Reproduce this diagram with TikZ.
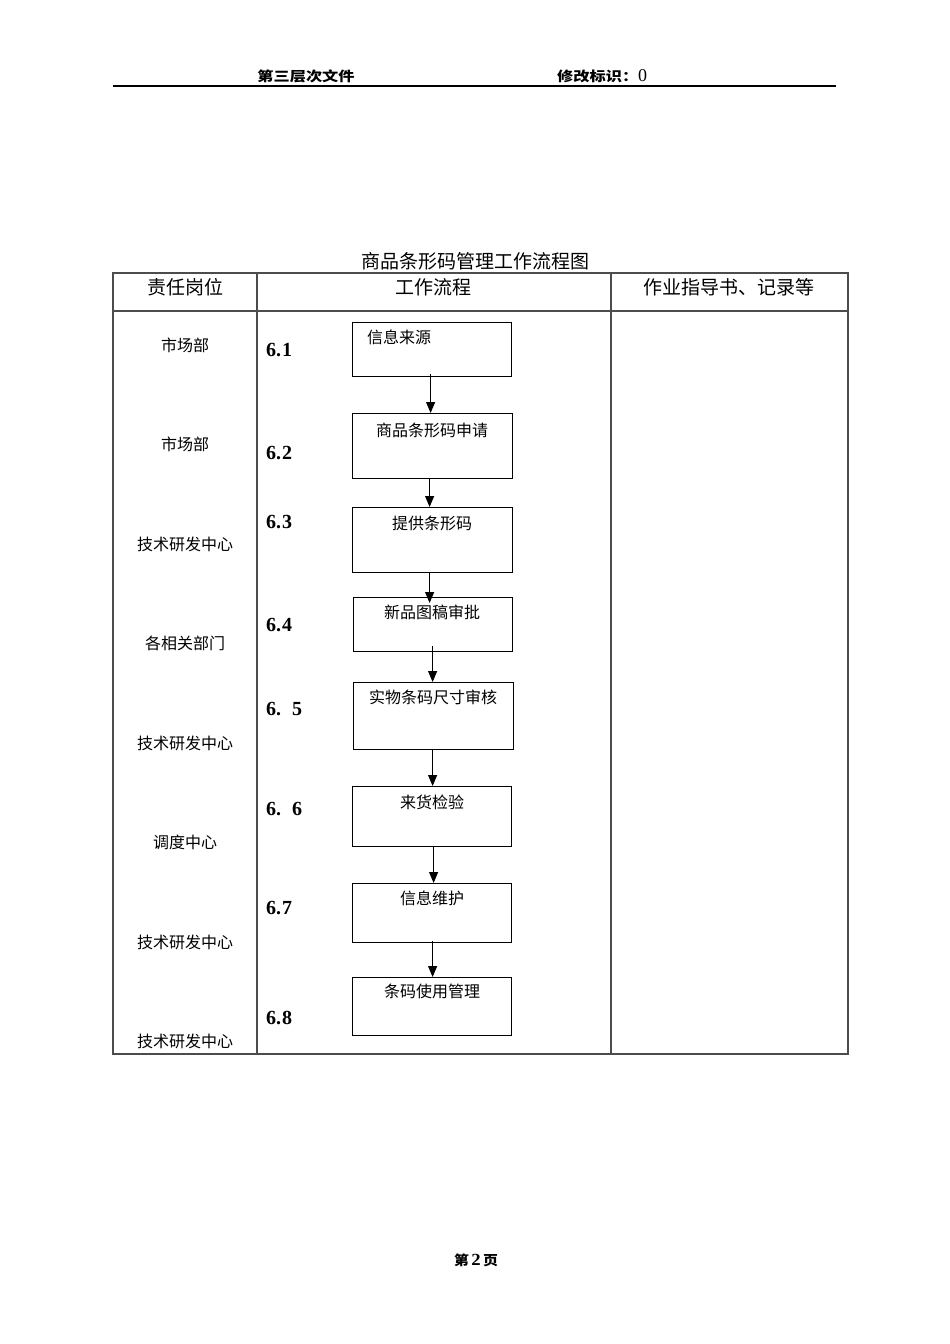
\documentclass[tikz,border=0pt]{standalone}
\usepackage{fontspec}
\setmainfont{Liberation Serif}
\newfontfamily\cjk{Noto Sans CJK SC}
\usetikzlibrary{arrows.meta}
\begin{document}
\begin{tikzpicture}[x=1pt,y=-1pt,
  tbl/.style={draw=black!70, line width=1.1pt},
  boxnode/.style={draw=black, line width=1.2pt, anchor=north west, inner sep=0pt},
  flow/.style={draw=black, line width=1.1pt, -{Triangle[length=11pt,width=9pt]}},
  role/.style={anchor=base, inner sep=0pt, font=\cjk\fontsize{16}{18}\selectfont},
  btext/.style={anchor=base, inner sep=0pt, font=\cjk\fontsize{16}{18}\selectfont},
  num/.style={anchor=base west, inner sep=0pt, font=\fontsize{20}{22}\selectfont\bfseries},
  head/.style={anchor=base, inner sep=0pt, font=\cjk\fontsize{19}{21}\selectfont},
  small/.style={inner sep=0pt, font=\cjk\fontsize{13.5}{15}\selectfont\bfseries}
]
\useasboundingbox[fill=white] (0,0) rectangle (950,1344);

% page header
\node[small, anchor=base] (hl) at (306,81) {\scalebox{1.2}[1]{第三层次文件}};
\node[small, anchor=base west] (hr) at (557,81) {\scalebox{1.2}[1]{修改标识：}{\fontspec{Liberation Serif}\mdseries\fontsize{18}{18}\selectfont 0}};
\coordinate (hla) at (113,86);
\coordinate (hlb) at (836,86);
\draw[line width=1.2pt] (hla) -- (hlb);

% title
\node[head] (title) at (475,268) {商品条形码管理工作流程图};

% table
\coordinate (tnw) at (113,273);
\coordinate (tse) at (848,1054);
\draw[tbl] (tnw) rectangle (tse);
\coordinate (r1a) at (113,311); \coordinate (r1b) at (848,311);
\draw[tbl] (r1a) -- (r1b);
\coordinate (c1a) at (257,273); \coordinate (c1b) at (257,1054);
\coordinate (c2a) at (611,273); \coordinate (c2b) at (611,1054);
\draw[tbl] (c1a) -- (c1b);
\draw[tbl] (c2a) -- (c2b);

\node[head] (h1) at (185,294) {责任岗位};
\node[head] (h2) at (433,294) {工作流程};
\node[head] (h3) at (729,294) {作业指导书、记录等};

% roles
\node[role] (p1) at (185,351) {市场部};
\node[role] (p2) at (185,450) {市场部};
\node[role] (p3) at (185,550) {技术研发中心};
\node[role] (p4) at (185,649) {各相关部门};
\node[role] (p5) at (185,749) {技术研发中心};
\node[role] (p6) at (185,848) {调度中心};
\node[role] (p7) at (185,948) {技术研发中心};
\node[role] (p8) at (185,1047) {技术研发中心};

% step numbers
\node[num] (n1) at (266,356) {6.\kern1pt 1};
\node[num] (n2) at (266,459) {6.\kern1pt 2};
\node[num] (n3) at (266,528) {6.\kern1pt 3};
\node[num] (n4) at (266,631) {6.\kern1pt 4};
\node[num] (n5) at (266,715) {6.\hspace{11pt}5};
\node[num] (n6) at (266,815) {6.\hspace{11pt}6};
\node[num] (n7) at (266,914) {6.\kern1pt 7};
\node[num] (n8) at (266,1024) {6.\kern1pt 8};

% boxes
\node[boxnode, minimum width=159pt, minimum height=54pt] (b1) at (352,322) {};
\node[boxnode, minimum width=160pt, minimum height=65pt] (b2) at (352,413) {};
\node[boxnode, minimum width=160pt, minimum height=65pt] (b3) at (352,507) {};
\node[boxnode, minimum width=159pt, minimum height=54pt] (b4) at (353,597) {};
\node[boxnode, minimum width=160pt, minimum height=67pt] (b5) at (353,682) {};
\node[boxnode, minimum width=159pt, minimum height=60pt] (b6) at (352,786) {};
\node[boxnode, minimum width=159pt, minimum height=59pt] (b7) at (352,883) {};
\node[boxnode, minimum width=159pt, minimum height=58pt] (b8) at (352,977) {};

\node[btext] (t1) at (399,343) {信息来源};
\node[btext] (t2) at (432,436) {商品条形码申请};
\node[btext] (t3) at (432,529) {提供条形码};
\node[btext] (t4) at (432,618) {新品图稿审批};
\node[btext] (t5) at (433,703) {实物条码尺寸审核};
\node[btext] (t6) at (432,808) {来货检验};
\node[btext] (t7) at (432,904) {信息维护};
\node[btext] (t8) at (432,997) {条码使用管理};

% arrows
\draw[flow] ([xshift=-1.5pt,yshift=3pt]b1.south) -- ([xshift=-2pt]b2.north);
\draw[flow] ([xshift=-3pt]b2.south) -- ([xshift=-3pt]b3.north);
\draw[flow] ([xshift=-3pt]b3.south) -- ([xshift=-3.5pt,yshift=-6pt]b4.north);
\draw[flow] ([xshift=-0.5pt,yshift=6pt]b4.south) -- ([xshift=-1pt]b5.north);
\draw[flow] ([xshift=-1pt]b5.south) -- ([xshift=0.5pt]b6.north);
\draw[flow] ([xshift=1.5pt]b6.south) -- ([xshift=1.5pt]b7.north);
\draw[flow] ([xshift=0.5pt,yshift=2pt]b7.south) -- ([xshift=0.5pt]b8.north);

% footer
\node[small, anchor=base] (pg) at (476,1265) {\scalebox{1.1}[1]{第\,{\fontspec{Liberation Serif}\fontsize{17}{17}\selectfont 2}\,页}};
\end{tikzpicture}
\end{document}
